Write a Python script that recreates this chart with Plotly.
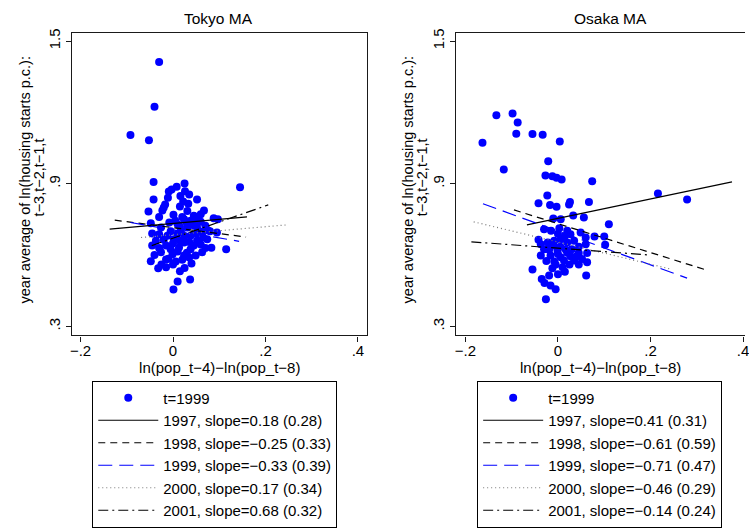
import plotly.graph_objects as go

# ---------------- data ----------------
tokyo_x = [-0.030, -0.040, -0.092, -0.052,
           -0.042, 0.025, 0.145, 0.008, -0.003, -0.009, 0.026, 0.035, 0.016, -0.042,
           -0.011, 0.052, 0.022, 0.033, -0.017, -0.020, 0.015, -0.053, -0.023, 0.001,
           0.031, 0.067, 0.060, 0.045, 0.024, 0.038, 0.053, 0.088, 0.097, -0.048,
           -0.008, 0.010, -0.026, 0.031, 0.017, 0.052, 0.070, -0.045, -0.030, 0.095,
           -0.012, 0.038, -0.037, 0.002, 0.024, 0.052, 0.074, -0.015, 0.013, 0.038,
           0.063, 0.083, 0.115, -0.026, -0.001, 0.024, 0.049, -0.048, -0.015, 0.006,
           -0.032, -0.015, 0.015, 0.025, 0.010, 0.037, 0.001, 0.063,
           0.005, 0.015, 0.030, 0.045, 0.060, 0.075, -0.005, 0.010, 0.025, 0.050,
           0.065, -0.020, 0.000, 0.015, 0.035, 0.060, -0.030, -0.005, 0.010, 0.030,
           0.045, -0.040, -0.010, 0.020, 0.035, 0.000, -0.025, 0.040, 0.070, 0.080,
           -0.045, 0.050, 0.020, -0.030]
tokyo_y = [1.412, 1.224, 1.105, 1.083,
           0.907, 0.901, 0.885, 0.887, 0.876, 0.867, 0.869, 0.855, 0.849, 0.834,
           0.841, 0.834, 0.825, 0.816, 0.813, 0.800, 0.804, 0.783, 0.788, 0.770,
           0.786, 0.788, 0.772, 0.765, 0.751, 0.744, 0.744, 0.755, 0.751, 0.734,
           0.737, 0.730, 0.716, 0.716, 0.702, 0.716, 0.723, 0.691, 0.688, 0.695,
           0.681, 0.681, 0.660, 0.667, 0.653, 0.660, 0.667, 0.640, 0.632, 0.625,
           0.612, 0.631, 0.625, 0.612, 0.604, 0.598, 0.598, 0.574, 0.581, 0.573,
           0.545, 0.549, 0.532, 0.546, 0.489, 0.497, 0.455, 0.698,
           0.745, 0.720, 0.735, 0.725, 0.740, 0.705, 0.700, 0.690, 0.680, 0.690,
           0.675, 0.665, 0.650, 0.660, 0.655, 0.645, 0.630, 0.625, 0.615, 0.610,
           0.640, 0.600, 0.585, 0.580, 0.590, 0.560, 0.560, 0.565, 0.630, 0.700,
           0.640, 0.760, 0.760, 0.760]

osaka_x = [-0.163, -0.133, -0.098, -0.087, -0.090, -0.055, -0.033, 0.004, -0.117,
           -0.021, 0.216, 0.279,
           -0.027, -0.012, -0.003, 0.008, 0.074, -0.023, -0.042, -0.017, -0.003,
           0.026, 0.024, 0.067, -0.010, 0.006, 0.033, 0.056, 0.110, -0.030, -0.015,
           0.003, 0.020, 0.027, 0.049, 0.079, 0.100, 0.060, 0.102, -0.042, -0.037,
           -0.022, -0.008, 0.006, 0.020, 0.060, -0.019, -0.001, 0.017, -0.037,
           -0.016, 0.006, 0.027, 0.045, 0.063, -0.008, 0.013, 0.035, 0.052, 0.063,
           -0.055, -0.012, 0.010, -0.019, -0.035, -0.029, -0.016, -0.005, 0.061,
           -0.026,
           0.000, 0.015, 0.035, -0.010, 0.005, 0.030, 0.045, -0.030, 0.000, 0.020,
           0.040, -0.005, 0.025, 0.045, -0.025, 0.015, 0.000]
osaka_y = [1.073, 1.188, 1.196, 1.158, 1.110, 1.109, 1.106, 1.078, 0.960,
           0.995, 0.859, 0.834,
           0.935, 0.932, 0.925, 0.918, 0.911, 0.851, 0.818, 0.811, 0.803,
           0.823, 0.813, 0.823, 0.754, 0.751, 0.767, 0.758, 0.730, 0.709, 0.702,
           0.713, 0.702, 0.688, 0.695, 0.678, 0.678, 0.674, 0.644, 0.665, 0.646,
           0.653, 0.660, 0.667, 0.653, 0.646, 0.623, 0.619, 0.623, 0.598,
           0.598, 0.591, 0.595, 0.609, 0.609, 0.573, 0.577, 0.577, 0.584, 0.570,
           0.539, 0.545, 0.549, 0.514, 0.500, 0.483, 0.472, 0.456, 0.514,
           0.414,
           0.690, 0.680, 0.660, 0.640, 0.635, 0.625, 0.635, 0.625, 0.605, 0.610,
           0.595, 0.560, 0.560, 0.560, 0.575, 0.530, 0.520]

years = ["1997", "1998", "1999", "2000", "2001"]
tokyo_slope = ["0.18", "\u22120.25", "\u22120.33", "0.17", "0.68"]
tokyo_se = ["0.28", "0.33", "0.39", "0.34", "0.32"]
osaka_slope = ["0.41", "\u22120.61", "\u22120.71", "\u22120.46", "\u22120.14"]
osaka_se = ["0.31", "0.59", "0.47", "0.29", "0.24"]

tokyo_fit_x0 = [-0.137, -0.126, -0.092, -0.069, -0.046]
tokyo_fit_x1 = [0.160, 0.158, 0.143, 0.245, 0.206]
tokyo_fit_y0 = [0.709, 0.747, 0.737, 0.674, 0.640]
tokyo_fit_y1 = [0.761, 0.676, 0.658, 0.727, 0.811]
osaka_fit_x0 = [-0.067, -0.095, -0.162, -0.182, -0.187]
osaka_fit_x1 = [0.376, 0.318, 0.279, 0.242, 0.200]
osaka_fit_y0 = [0.727, 0.790, 0.816, 0.740, 0.656]
osaka_fit_y1 = [0.908, 0.539, 0.503, 0.542, 0.600]

x_tickvals = [-0.2, 0, 0.2, 0.4]
x_ticktext = ["\u2212.2", "0", ".2", ".4"]
y_tickvals = [0.3, 0.9, 1.5]
y_ticktext = [".3", ".9", "1.5"]

panel_titles = ["Tokyo MA", "Osaka MA"]
x_title = "ln(pop_t\u22124)\u2212ln(pop_t\u22128)"
y_title_1 = "year average of ln(housing starts p.c.):"
y_title_2 = "t\u22123,t\u22122,t\u22121,t"
point_label = "t=1999"

# ---------------- styles ----------------
FONT = "Liberation Sans, Arial, Helvetica, sans-serif"
W, H = 749, 529
BLUE = "#0000ff"
line_styles = [
    dict(color="black", width=1.2, dash="solid"),
    dict(color="black", width=1.2, dash="7px,5px"),
    dict(color=BLUE, width=1.2, dash="14px,7px"),
    dict(color="#777777", width=1.2, dash="1px,3px"),
    dict(color="black", width=1.2, dash="10px,4px,2px,4px"),
]

fig = go.Figure()

panels = [
    (tokyo_x, tokyo_y, tokyo_slope, tokyo_se, tokyo_fit_x0, tokyo_fit_x1,
     tokyo_fit_y0, tokyo_fit_y1, "x", "y", "legend"),
    (osaka_x, osaka_y, osaka_slope, osaka_se, osaka_fit_x0, osaka_fit_x1,
     osaka_fit_y0, osaka_fit_y1, "x2", "y2", "legend2"),
]

for (px, py, sl, se, fx0, fx1, fy0, fy1, xa, ya, lg) in panels:
    fig.add_trace(go.Scatter(
        x=px, y=py, mode="markers", name=point_label,
        marker=dict(color=BLUE, size=8, line=dict(width=0)),
        xaxis=xa, yaxis=ya, legend=lg, legendgroup=lg + "p"))
    for i, yr in enumerate(years):
        fig.add_trace(go.Scatter(
            x=[fx0[i], fx1[i]], y=[fy0[i], fy1[i]], mode="lines",
            name=f"{yr}, slope={sl[i]} ({se[i]})",
            line=line_styles[i], xaxis=xa, yaxis=ya, legend=lg,
            legendgroup=lg + yr))

def px2x(p):
    return p / W

def py2y(p):
    return 1 - p / H

axis_common = dict(
    showline=True, linecolor="#1a1a1a", linewidth=1.2,
    ticks="outside", ticklen=5, tickwidth=1.2, tickcolor="#1a1a1a",
    showgrid=False, zeroline=False,
    tickfont=dict(family=FONT, size=15, color="black"),
)

y_dom = [py2y(334), py2y(29)]
y_rng = [0.262, 1.535]

fig.update_layout(
    width=W, height=H,
    margin=dict(l=0, r=0, t=0, b=0),
    paper_bgcolor="white", plot_bgcolor="white",
    font=dict(family=FONT, color="black"),
    xaxis=dict(domain=[px2x(71), px2x(368)], range=[-0.2175, 0.4197],
               tickvals=x_tickvals, ticktext=x_ticktext, mirror=True,
               anchor="y", ticklabelstandoff=-4,
               title=dict(text=x_title, standoff=2,
                          font=dict(family=FONT, size=15, color="black")),
               **axis_common),
    yaxis=dict(domain=y_dom, range=y_rng, tickvals=y_tickvals,
               ticktext=y_ticktext, tickangle=-90, mirror=True, anchor="x",
               **axis_common),
    xaxis2=dict(domain=[px2x(458), 1.0], range=[-0.2195, 0.4041],
                tickvals=x_tickvals, ticktext=x_ticktext, mirror=True,
                anchor="y2", ticklabelstandoff=-4, ticklabeloverflow="allow",
                title=dict(text=x_title, standoff=2,
                           font=dict(family=FONT, size=15, color="black")),
                **axis_common),
    yaxis2=dict(domain=y_dom, range=y_rng, tickvals=y_tickvals,
                ticktext=y_ticktext, tickangle=-90, mirror=False, anchor="x2",
                **axis_common),
    legend=dict(x=px2x(91), y=py2y(527.5), xanchor="left", yanchor="bottom",
                bordercolor="black", borderwidth=1, bgcolor="white",
                font=dict(family=FONT, size=15, color="black"),
                itemwidth=60, tracegroupgap=0, traceorder="normal"),
    legend2=dict(x=px2x(479), y=py2y(527.5), xanchor="left", yanchor="bottom",
                 bordercolor="black", borderwidth=1, bgcolor="white",
                 font=dict(family=FONT, size=15, color="black"),
                 itemwidth=60, tracegroupgap=0, traceorder="normal"),
    showlegend=True,
)

annos = []
for t, cx in zip(panel_titles, [218, 613]):
    annos.append(dict(text=t, x=px2x(cx), y=py2y(15), xref="paper", yref="paper",
                      xanchor="center", yanchor="middle", showarrow=False,
                      font=dict(family=FONT, size=15.5, color="black")))
for l1x, l2x in [(23, 37), (409, 423)]:
    annos.append(dict(text=y_title_1, x=px2x(l1x), y=py2y(177), xref="paper",
                      yref="paper", xanchor="center", yanchor="middle",
                      textangle=-90, showarrow=False,
                      font=dict(family=FONT, size=14.5, color="black")))
    annos.append(dict(text=y_title_2, x=px2x(l2x), y=py2y(175), xref="paper",
                      yref="paper", xanchor="center", yanchor="middle",
                      textangle=-90, showarrow=False,
                      font=dict(family=FONT, size=14.5, color="black")))
fig.update_layout(annotations=annos)

fig.write_html("out.html")
